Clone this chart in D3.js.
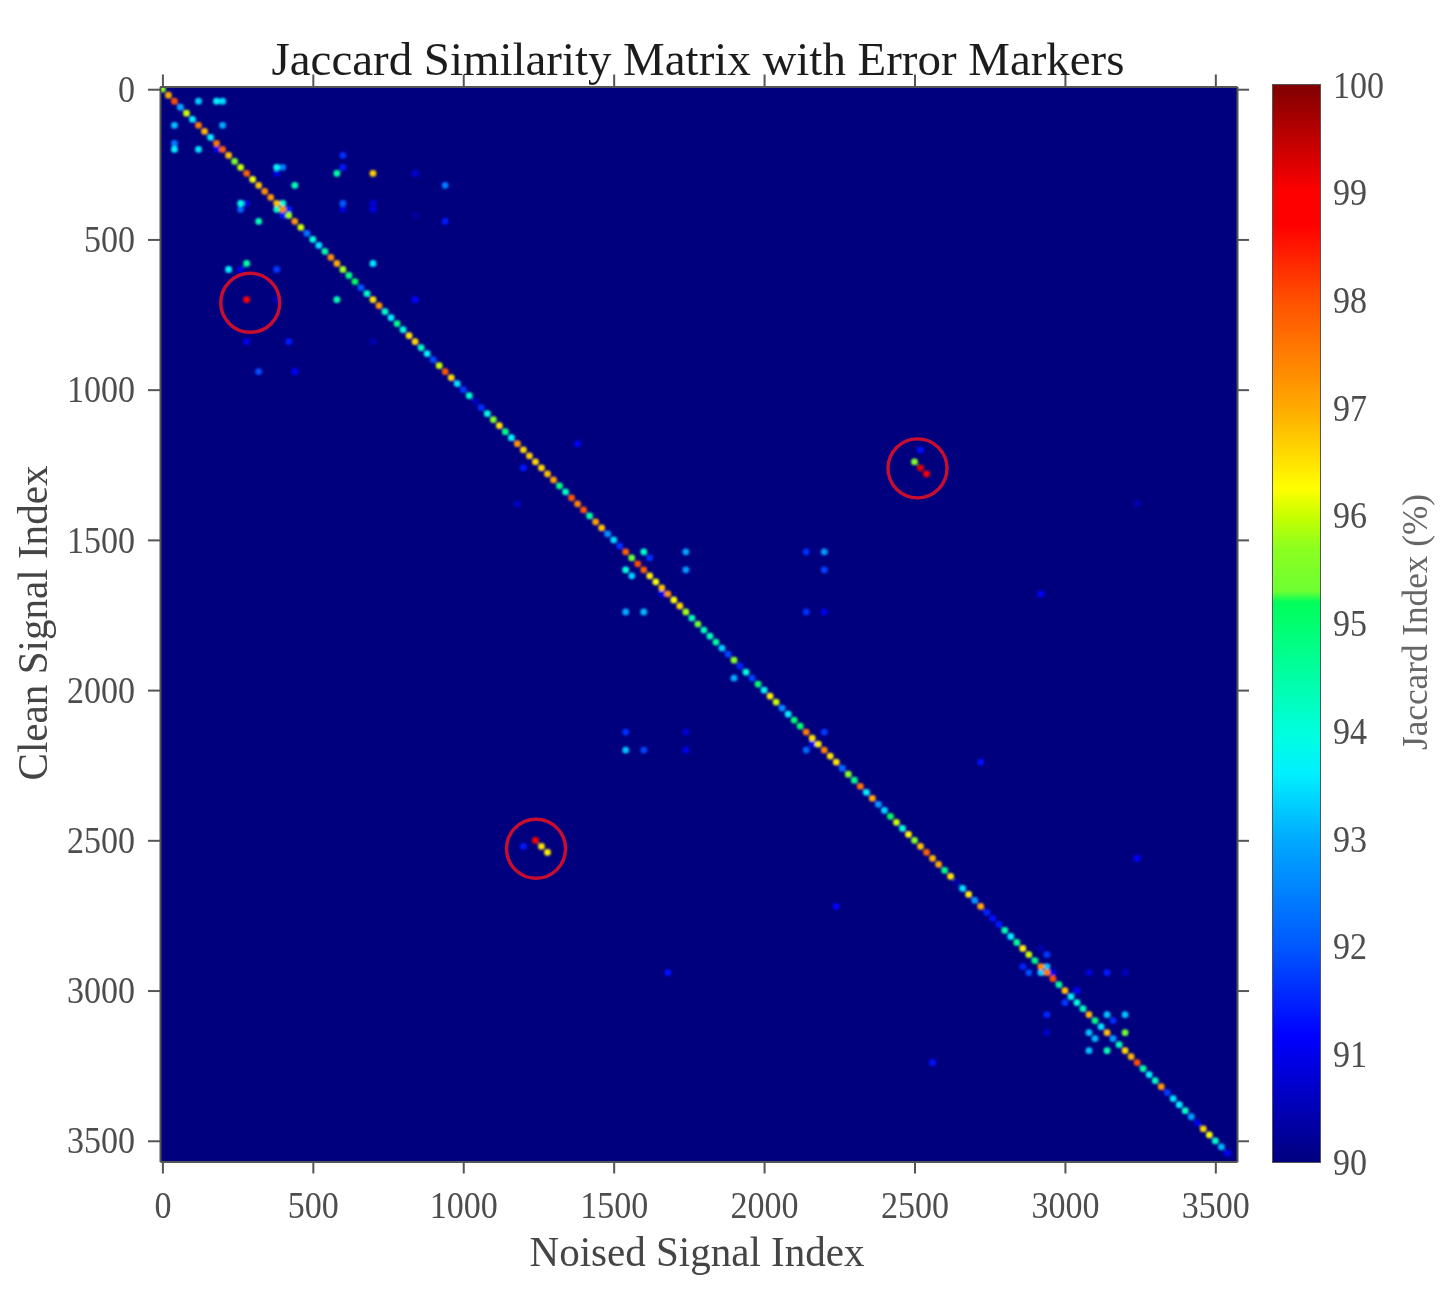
<!DOCTYPE html>
<html>
<head>
<meta charset="utf-8">
<title>Jaccard Similarity Matrix</title>
<script src="https://cdn.jsdelivr.net/npm/d3@7"></script>
<style>
  html, body { margin: 0; padding: 0; background: #fff; }
  svg { display: block; }
  text { font-family: "Liberation Serif", "Times New Roman", serif; }
</style>
</head>
<body>
<div id="chart"></div>
<script>
// Diagonal of the matrix, one value per 20 samples (0, 20, 40 ...)
var diagJaccard = [
  95.7, 97.0, 98.0, 93.0, 96.0, 93.6, 97.5, 96.9, 93.6, 97.6,
  97.8, 96.8, 95.5, 96.0, 97.8, 96.2, 96.8, 97.3, 97.2, 96.8,
  97.3, 95.8, 97.2, 96.0, 92.3, 94.0, 93.5, 94.5, 97.3, 97.0,
  95.8, 94.8, 95.2, 92.0, 94.2, 96.5, 97.2, 94.2, 93.6, 94.8,
  94.0, 96.5, 96.6, 94.2, 93.7, 91.9, 96.0, 97.9, 96.6, 93.5,
  91.7, 94.1, 90.6, 91.6, 93.9, 95.5, 96.5, 94.8, 93.7, 97.2,
  96.6, 96.7, 96.6, 96.6, 96.8, 97.1, 94.8, 94.3, 97.9, 97.4,
  97.9, 94.5, 97.1, 96.8, 92.7, 93.4, 91.6, 97.8, 95.3, 98.0,
  97.8, 96.4, 96.2, 96.8, 97.3, 96.3, 96.6, 95.8, 94.4, 95.3,
  94.4, 94.3, 94.6, 93.3, 91.8, 95.6, 91.5, 94.0, 91.8, 94.9,
  93.8, 96.4, 96.0, 92.6, 93.6, 95.0, 95.0, 97.5, 96.5, 96.4,
  97.4, 96.5, 96.5, 92.2, 95.6, 94.8, 97.6, 93.7, 97.0, 92.8,
  93.4, 95.2, 96.0, 94.0, 96.3, 95.6, 96.8, 97.8, 96.9, 97.0,
  94.8, 96.5, 90.4, 93.5, 96.4, 92.8, 97.0, 91.5, 91.3, 91.4,
  94.4, 93.6, 94.7, 96.4, 96.0, 94.8, 97.3, 97.5, 98.0, 94.6,
  96.8, 93.7, 94.0, 94.3, 96.9, 94.8, 93.5, 96.8, 92.8, 94.3,
  96.6, 96.9, 98.0, 94.5, 93.6, 94.3, 97.2, 91.7, 93.5, 93.6,
  94.2, 92.8, 91.0, 96.6, 96.2, 94.2, 93.1, 91.2
];

// Off-diagonal cells
var offNoised = [
  120, 180, 200, 40, 200, 40, 40, 120, 180,
  380, 400, 380, 600, 600, 580, 700, 840, 940, 440,
  260, 260, 280, 600, 600, 700, 700, 400, 380, 420, 400, 840,
  320, 940, 280, 220, 260, 380, 700, 280, 380, 580, 840, 280, 420, 700, 320, 440,
  1380, 1200, 1180, 1600, 1620, 1740, 2140, 2200, 1540, 1560, 1740, 2200, 1540, 1600, 2140, 2200, 1660, 1900,
  1540, 1540, 1600, 1740, 1740, 2200, 2140, 2160,
  1240, 1260, 1280, 1200, 2520, 2500, 2520, 2540, 3240, 2920,
  2720, 2240, 3240, 2560, 1680,
  2940, 2920, 2860, 2880, 2940, 2920, 2960, 3080, 3140, 3200, 3040, 3000, 2940, 2940,
  3140, 3200, 3160, 3080, 3200, 3100, 3080, 3140
];
var offClean = [
  40, 40, 40, 120, 120, 180, 200, 200, 200,
  260, 260, 280, 220, 260, 280, 280, 280, 320, 320,
  380, 400, 380, 380, 400, 380, 400, 380, 400, 400, 420, 420,
  440, 440, 580, 600, 600, 600, 580, 700, 700, 700, 700, 840, 840, 840, 940, 940,
  1180, 1260, 1380, 1540, 1560, 1540, 1540, 1540, 1600, 1620, 1600, 1600, 1740, 1740, 1740, 1740, 1680, 1960,
  2140, 2200, 2200, 2140, 2200, 2140, 2200, 2180,
  2500, 2520, 2540, 2520, 1200, 1240, 1260, 1280, 1380, 1680,
  2240, 2720, 2560, 3240, 2940,
  2880, 2860, 2920, 2940, 2920, 2940, 2940, 2940, 2940, 2940, 3000, 3040, 3080, 3140,
  3080, 3080, 3100, 3140, 3140, 3160, 3200, 3200
];
var offJaccard = [
  93.3, 93.6, 93.4, 93.2, 93.0, 92.4, 93.6, 93.5, 91.0,
  93.7, 92.4, 91.0, 91.6, 91.4, 94.5, 96.7, 90.8, 92.4, 94.4,
  93.9, 92.2, 90.9, 92.0, 90.9, 90.8, 90.9, 94.0, 94.2, 91.5, 91.3, 90.3,
  94.4, 91.4, 94.5, 93.6, 91.0, 91.7, 93.5, 99.0, 90.6, 94.4, 91.2, 91.0, 91.4, 90.5, 91.9, 91.2,
  91.1, 91.4, 90.7, 94.2, 91.6, 92.9, 91.6, 92.8, 94.0, 93.3, 92.8, 91.8, 93.0, 93.1, 91.6, 91.0, 91.0, 93.0,
  91.6, 93.2, 91.8, 90.8, 91.0, 91.7, 92.2, 91.0,
  99.0, 96.5, 96.4, 91.4, 91.3, 95.6, 99.2, 98.9, 90.5, 91.2,
  91.3, 91.2, 91.2, 91.3, 91.3,
  91.7, 90.4, 91.5, 91.9, 93.2, 93.3, 91.0, 90.9, 91.4, 90.6, 91.2, 91.7, 91.5, 90.7,
  93.2, 93.2, 91.6, 93.2, 95.3, 93.1, 93.2, 94.4
];

// Error markers
var markerNoised = [292, 2510, 1242];
var markerClean = [711, 1262, 2528];

// Axes
var xTicks = [0, 500, 1000, 1500, 2000, 2500, 3000, 3500];
var yTicks = [0, 500, 1000, 1500, 2000, 2500, 3000, 3500];
var colorTicks = [90, 91, 92, 93, 94, 95, 96, 97, 98, 99, 100];

// Colormap as shown on the colorbar
var mapValues = [90, 91.17, 92, 93, 93.6, 94, 95, 95.2, 95.3, 95.7, 96, 96.25, 97, 98, 98.7, 99, 100];
var mapColors = ["#00007f", "#0000ff", "#0058ff", "#00aaff", "#00f0ff", "#00ffdc", "#00ff6e", "#00ff5a",
  "#6eff32", "#8cff1e", "#c8ff00", "#ffff00", "#ffaa00", "#ff5000", "#ff0000", "#ff0000", "#800000"];

var width = 1456, height = 1315;
var plot = { left: 160, right: 1237, top: 86.5, bottom: 1161.5 };
var bar = { left: 1273, right: 1320, top: 85, bottom: 1162 };
var inkColor = "#555";
var cellSize = 20;

var x = d3.scaleLinear().domain([-8, 3572]).range([plot.left, plot.right]);
var y = d3.scaleLinear().domain([-9, 3569]).range([plot.top, plot.bottom]);
var jet = d3.scaleLinear().domain(mapValues).range(mapColors).interpolate(d3.interpolateRgb).clamp(true);
var barScale = d3.scaleLinear().domain([90, 100]).range([bar.bottom, bar.top]);

var svg = d3.select("#chart").append("svg")
  .attr("width", width).attr("height", height)
  .attr("viewBox", "0 0 " + width + " " + height);

// The source picture is soft, so marks and text get a small blur
var defs = svg.append("defs");
defs.append("filter").attr("id", "cell-blur")
  .attr("filterUnits", "userSpaceOnUse").attr("x", 0).attr("y", 0).attr("width", width).attr("height", height)
  .append("feGaussianBlur").attr("stdDeviation", 0.85);
defs.append("filter").attr("id", "soft")
  .attr("filterUnits", "userSpaceOnUse").attr("x", 0).attr("y", 0).attr("width", width).attr("height", height)
  .append("feGaussianBlur").attr("stdDeviation", 0.65);
defs.append("clipPath").attr("id", "plot-clip").append("rect")
  .attr("x", plot.left).attr("y", plot.top)
  .attr("width", plot.right - plot.left).attr("height", plot.bottom - plot.top);

var gradient = defs.append("linearGradient").attr("id", "jet-gradient")
  .attr("x1", 0).attr("y1", 1).attr("x2", 0).attr("y2", 0);
gradient.selectAll("stop").data(mapValues).join("stop")
  .attr("offset", function(d) { return (d - 90) / 10; })
  .attr("stop-color", function(d) { return jet(d); });

// Background of the matrix
svg.append("rect")
  .attr("x", plot.left).attr("y", plot.top)
  .attr("width", plot.right - plot.left).attr("height", plot.bottom - plot.top)
  .attr("fill", jet(90));

// Build the cell list
var cells = diagJaccard.map(function(v, i) {
  return { noised: i * cellSize, clean: i * cellSize, jaccard: v };
});
offJaccard.forEach(function(v, i) {
  cells.push({ noised: offNoised[i], clean: offClean[i], jaccard: v });
});
cells.sort(function(a, b) { return a.jaccard - b.jaccard; });

var half = cellSize * 0.56;
svg.append("g").attr("clip-path", "url(#plot-clip)")
  .append("g").attr("filter", "url(#cell-blur)")
  .selectAll("rect").data(cells).join("rect")
  .attr("x", function(d) { return x(d.noised - half); })
  .attr("y", function(d) { return y(d.clean - half); })
  .attr("width", function(d) { return x(d.noised + half) - x(d.noised - half); })
  .attr("height", function(d) { return y(d.clean + half) - y(d.clean - half); })
  .attr("rx", 3.2)
  .attr("fill", function(d) { return jet(d.jaccard); });

// Red circles around the errors
svg.append("g").attr("filter", "url(#soft)")
  .selectAll("circle").data(markerNoised).join("circle")
  .attr("cx", function(d) { return x(d); })
  .attr("cy", function(d, i) { return y(markerClean[i]); })
  .attr("r", 29.5)
  .attr("fill", "none")
  .attr("stroke", "#c8102e")
  .attr("stroke-width", 3.4);

// Everything in ink goes in a soft group
var ink = svg.append("g").attr("filter", "url(#soft)");

function styleAxis(g) {
  g.selectAll("path,line").attr("stroke", inkColor).attr("stroke-width", 2);
  g.selectAll("text").attr("fill", "#4d4d4d").style("font-size", "38px")
    .attr("lengthAdjust", "spacingAndGlyphs")
    .attr("textLength", function(d) { return String(d).length * 17; });
}

ink.append("g").attr("transform", "translate(0," + plot.bottom + ")")
  .call(d3.axisBottom(x).tickValues(xTicks).tickSize(12).tickSizeOuter(0).tickPadding(18).tickFormat(d3.format("d")))
  .call(styleAxis);
ink.append("g").attr("transform", "translate(0," + plot.top + ")")
  .call(d3.axisTop(x).tickValues(xTicks).tickSize(12).tickSizeOuter(0).tickFormat(""))
  .call(function(g) { g.selectAll("path,line").attr("stroke", inkColor).attr("stroke-width", 2); });
ink.append("g").attr("transform", "translate(" + plot.left + ",0)")
  .call(d3.axisLeft(y).tickValues(yTicks).tickSize(12).tickSizeOuter(0).tickPadding(13).tickFormat(d3.format("d")))
  .call(styleAxis);
ink.append("g").attr("transform", "translate(" + plot.right + ",0)")
  .call(d3.axisRight(y).tickValues(yTicks).tickSize(12).tickSizeOuter(0).tickFormat(""))
  .call(function(g) { g.selectAll("path,line").attr("stroke", inkColor).attr("stroke-width", 2); });

// Colorbar
svg.append("rect")
  .attr("x", bar.left).attr("y", bar.top)
  .attr("width", bar.right - bar.left).attr("height", bar.bottom - bar.top)
  .attr("fill", "url(#jet-gradient)");
ink.append("rect")
  .attr("x", bar.left).attr("y", bar.top)
  .attr("width", bar.right - bar.left).attr("height", bar.bottom - bar.top)
  .attr("fill", "none").attr("stroke", inkColor).attr("stroke-width", 2);

var barAxis = ink.append("g").attr("transform", "translate(" + bar.right + ",0)")
  .call(d3.axisRight(barScale).tickValues(colorTicks).tickSize(0).tickSizeOuter(0).tickPadding(13).tickFormat(d3.format("d")))
  .call(styleAxis);
barAxis.select("path").remove();
barAxis.selectAll(".tick line").remove();
barAxis.selectAll(".tick").filter(function(d) { return d !== 90 && d !== 100; }).append("line")
  .attr("x1", -12).attr("x2", 0)
  .attr("stroke", "#333").attr("stroke-width", 2.4);

// Titles
ink.append("text")
  .attr("x", 698).attr("y", 75)
  .attr("text-anchor", "middle")
  .attr("fill", "#1f1f1f")
  .attr("textLength", 853).attr("lengthAdjust", "spacingAndGlyphs")
  .style("font-size", "47px")
  .text("Jaccard Similarity Matrix with Error Markers");
ink.append("text")
  .attr("x", 697).attr("y", 1266)
  .attr("text-anchor", "middle")
  .attr("fill", "#444")
  .attr("textLength", 335).attr("lengthAdjust", "spacingAndGlyphs")
  .style("font-size", "43px")
  .text("Noised Signal Index");
ink.append("text")
  .attr("transform", "translate(47,623) rotate(-90)")
  .attr("text-anchor", "middle")
  .attr("fill", "#444")
  .attr("textLength", 315).attr("lengthAdjust", "spacingAndGlyphs")
  .style("font-size", "43px")
  .text("Clean Signal Index");
ink.append("text")
  .attr("transform", "translate(1427,622) rotate(-90)")
  .attr("text-anchor", "middle")
  .attr("fill", "#666")
  .attr("textLength", 256).attr("lengthAdjust", "spacingAndGlyphs")
  .style("font-size", "35px")
  .text("Jaccard Index (%)");
</script>
</body>
</html>
